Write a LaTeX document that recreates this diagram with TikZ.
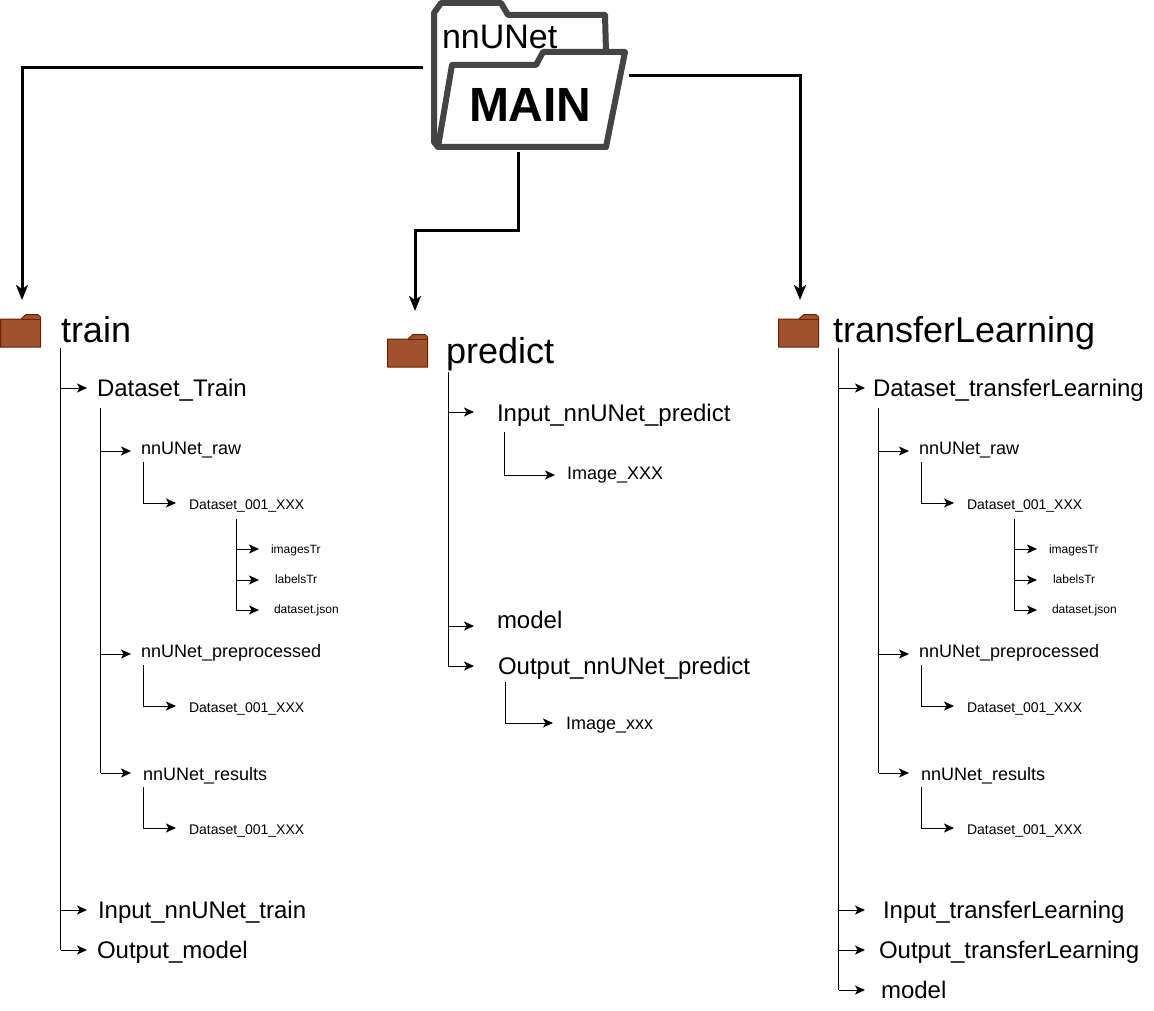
\documentclass[tikz,border=0pt]{standalone}
\usepackage{fontspec}
\setmainfont{Liberation Sans}
\usetikzlibrary{arrows.meta}
\tikzset{
  x=1pt,y=-1pt,
  conn/.style={draw=black,line width=1pt,-{Stealth[length=10pt,width=9pt,inset=2.5pt]}},
  spine/.style={draw=black,line width=1pt},
  mainconn/.style={draw=black,line width=3pt,-{Stealth[length=15pt,width=12pt,inset=4pt]}},
  lbl/.style={anchor=base west,inner sep=0pt,outer sep=0pt,text=black},
  brownfolder/.style={fill=folderbrown,draw=folderedge,line width=1pt,line join=round},
  mainfolder/.style={fill=white,draw=foldergrey,line width=6pt,line join=round},
}
\definecolor{folderbrown}{HTML}{A0522D}
\definecolor{folderedge}{HTML}{6D1F00}
\definecolor{foldergrey}{HTML}{444444}
% name, font size, x, baseline, text
\newcommand{\lab}[5]{\node[lbl,font=\fontsize{#2}{#2}\selectfont] (#1) at (#3,#4) {#5};}
% name, spine x, y, tip x
\newcommand{\branch}[4]{\coordinate (#1s) at (#2,#3); \coordinate (#1e) at (#4,#3); \draw[conn] (#1s) -- (#1e);}
% name, x, y0, y1, tip x
\newcommand{\elbow}[5]{\coordinate (#1s) at (#2,#3); \coordinate (#1e) at (#5,#4); \draw[conn] (#1s) |- (#1e);}
\newcommand{\folderat}[2]{\begin{scope}[shift={(#1,#2)}]
  \draw[brownfolder] (0.5,5) -- (21,5) -- (26,0.5) -- (38,0.5) -- (40.5,3) -- (40.5,33) -- (0.5,33) -- cycle;
  \draw[draw=folderedge,line width=0.6pt] (21,5) -- (40.5,5);
\end{scope}}
\newcommand{\subtree}{%
  \coordinate (subtop) at (100.5,408); \coordinate (subbot) at (100.5,773);
  \draw[spine] (subtop) -- (subbot);
  \branch{br}{100.5}{451}{131} \branch{bp}{100.5}{654}{131} \branch{bz}{100.5}{773}{131}
  \lab{raw}{18}{141}{454}{nnUNet\_raw}
  \lab{pre}{18}{141}{657}{nnUNet\_preprocessed}
  \lab{res}{18}{143}{780}{nnUNet\_results}
  \elbow{er}{143}{462}{503}{176}
  \elbow{ep}{143}{665}{706}{176}
  \elbow{ez}{143}{787}{828}{176}
  \lab{d1}{14}{189}{509}{Dataset\_001\_XXX}
  \lab{d2}{14}{189}{712}{Dataset\_001\_XXX}
  \lab{d3}{14}{189}{834}{Dataset\_001\_XXX}
  \coordinate (dtop) at (236,519); \coordinate (dbot) at (236,610);
  \draw[spine] (dtop) -- (dbot);
  \branch{bi}{236}{549}{259} \branch{bl}{236}{580}{259} \branch{bj}{236}{610}{259}
  \lab{im}{12}{271}{553}{imagesTr}
  \lab{la}{12}{275}{583}{labelsTr}
  \lab{js}{12}{274}{613}{dataset.json}
}
\begin{document}
\begin{tikzpicture}
\useasboundingbox (0,0) rectangle (1154,1011);
\fill[white] (0,0) rectangle (1154,1011);
% main folder
\draw[mainfolder] (434,142) -- (434,13) -- (441,3) -- (501,3) -- (508,15) -- (605,15) -- (606,52) -- (606,147) -- (438,147) -- cycle;
\lab{nnunet}{34}{442}{49}{nnUNet}
\draw[mainfolder] (438,147) -- (452,65) -- (536,65) -- (543,52) -- (625,52) -- (606,147) -- cycle;
\lab{mainlab}{48}{469}{122}{\textbf{MAIN}}
\coordinate (mainL) at (423,67.5); \coordinate (mainR) at (629,75.5); \coordinate (mainB) at (518.5,152);
\coordinate (trainTip) at (22,300); \coordinate (predTip) at (415,311); \coordinate (transTip) at (800,300);
\coordinate (midY) at (518.5,231);
\draw[mainconn] (mainL) -| (trainTip);
\draw[mainconn] (mainR) -| (transTip);
\draw[mainconn] (mainB) |- (predTip |- midY) -- (predTip);
% train
\folderat{0}{314}
\lab{train}{36}{61}{342}{train}
\coordinate (ts) at (60.5,348); \coordinate (te) at (60.5,950);
\draw[spine] (ts) -- (te);
\branch{t1}{60.5}{388}{87} \branch{t2}{60.5}{910}{87} \branch{t3}{60.5}{950}{87}
\lab{dtrain}{24}{97}{396}{Dataset\_Train}
\lab{itrain}{24}{98}{918}{Input\_nnUNet\_train}
\lab{otrain}{24}{97}{958}{Output\_model}
\begin{scope}[name prefix=a-]
\subtree
\end{scope}
% predict
\folderat{387}{334}
\lab{predict}{36}{446}{363}{predict}
\coordinate (ps) at (448,372); \coordinate (pe) at (448,666);
\draw[spine] (ps) -- (pe);
\branch{p1}{448}{412}{474} \branch{p2}{448}{626}{474} \branch{p3}{448}{666}{474}
\lab{ipred}{24}{497}{421}{Input\_nnUNet\_predict}
\lab{mpred}{24}{497}{628}{model}
\lab{opred}{24}{498}{674}{Output\_nnUNet\_predict}
\elbow{pa}{504}{432}{475}{555}
\elbow{pb}{505}{682}{723}{553}
\lab{imx}{18}{567}{479}{Image\_XXX}
\lab{imy}{18}{566}{729}{Image\_xxx}
% transfer
\folderat{778}{314}
\lab{trans}{36}{833}{342}{transferLearning}
\coordinate (xs) at (838.5,348); \coordinate (xe) at (838.5,990);
\draw[spine] (xs) -- (xe);
\branch{x1}{838.5}{388}{865} \branch{x2}{838.5}{910}{865} \branch{x3}{838.5}{950}{865}
\coordinate (x4e) at (865,990); \draw[conn] (xe) -- (x4e);
\lab{dtrans}{24}{873}{396}{Dataset\_transferLearning}
\lab{itrans}{24}{883}{918}{Input\_transferLearning}
\lab{otrans}{24}{879}{958}{Output\_transferLearning}
\lab{mtrans}{24}{881}{998}{model}
\begin{scope}[name prefix=b-,shift={(778,0)}]
\subtree
\end{scope}
\end{tikzpicture}
\end{document}
